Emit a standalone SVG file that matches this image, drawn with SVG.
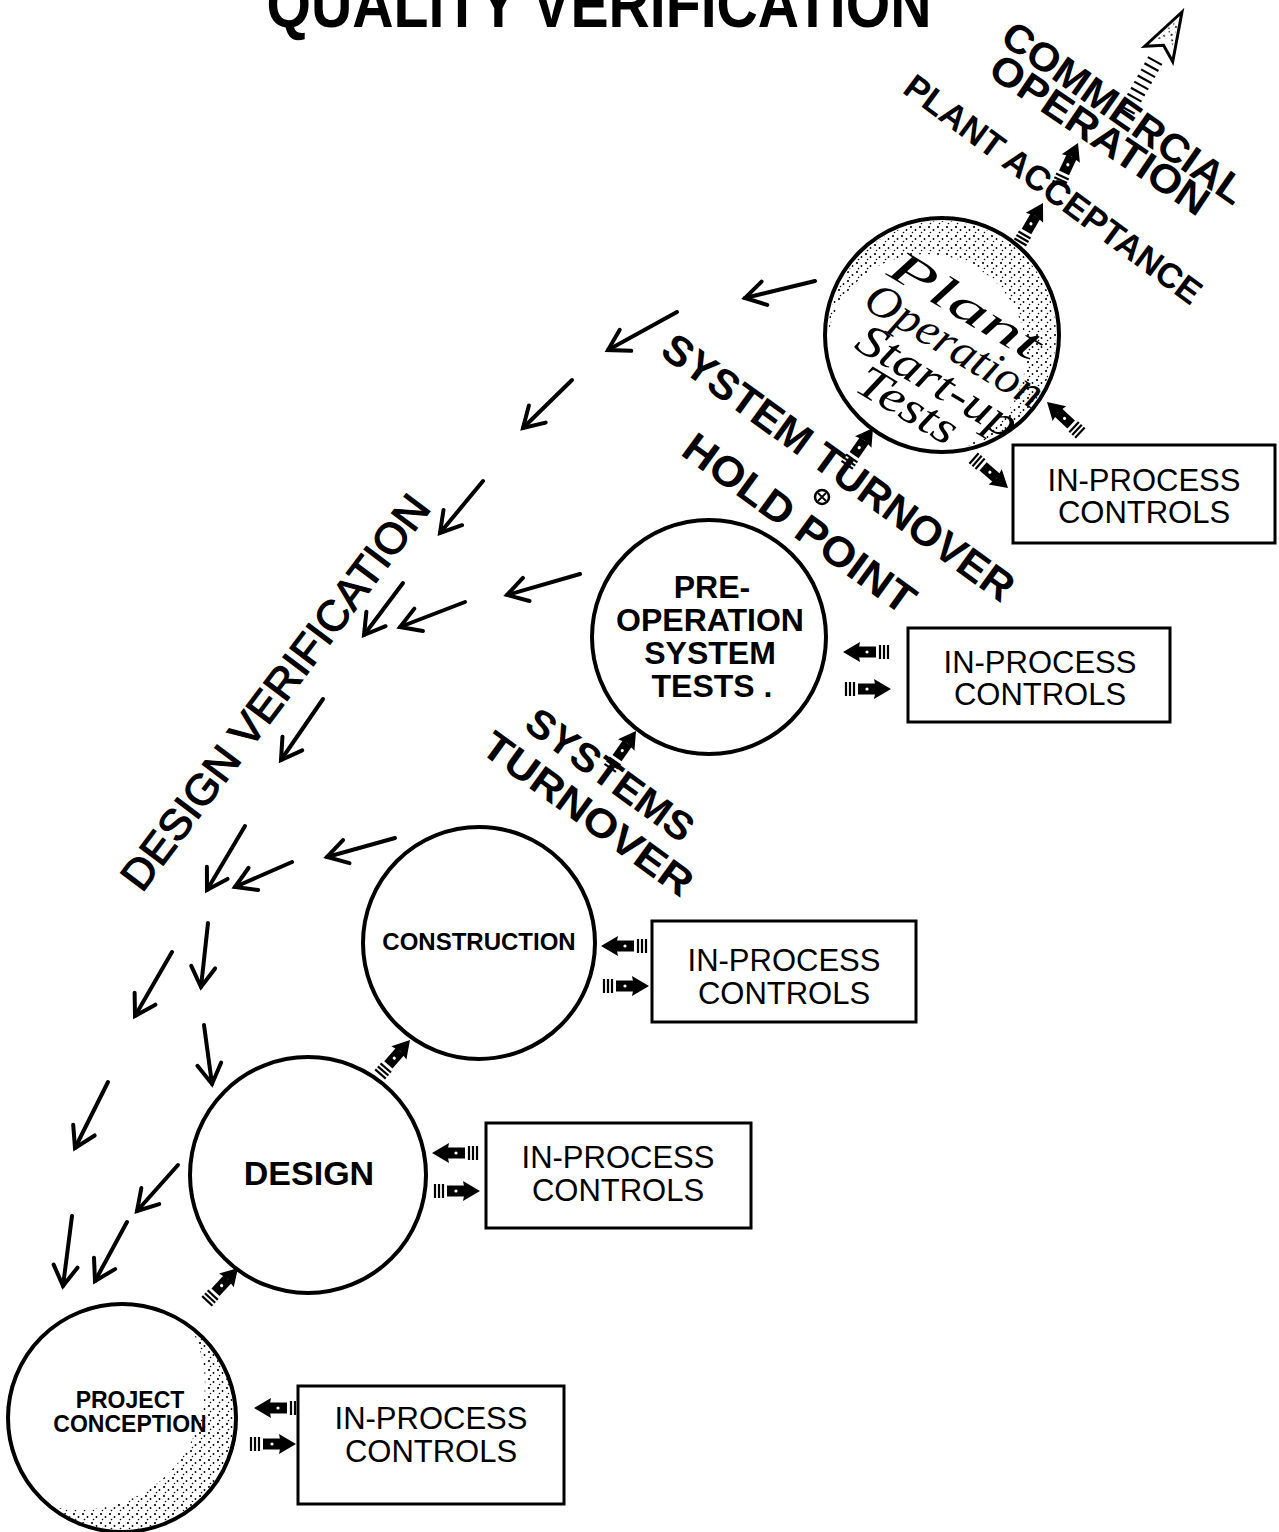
<svg xmlns="http://www.w3.org/2000/svg" xmlns:xlink="http://www.w3.org/1999/xlink" width="1279" height="1532" viewBox="0 0 1279 1532">
<defs>
<style>
.circ{fill:#fff;stroke:#000;stroke-width:4}
.box{fill:#fff;stroke:#000;stroke-width:3}
.ipc{font-family:"Liberation Sans",Arial,sans-serif;font-size:31px;text-anchor:middle;fill:#000}
.lbl{font-family:"Liberation Sans",Arial,sans-serif;font-weight:bold;text-anchor:middle;fill:#000}
.big{font-family:"Liberation Sans",Arial,sans-serif;font-weight:bold;text-anchor:middle;fill:#000}
.dvt{font-family:"Liberation Sans",Arial,sans-serif;font-weight:normal;text-anchor:middle;fill:#000;stroke:#000;stroke-width:1.2}
.hand{font-family:"Liberation Serif","DejaVu Serif",serif;font-style:italic;font-size:46px;text-anchor:middle;fill:#000}
.dv{stroke:#000;stroke-width:4;fill:none;stroke-linecap:round;marker-end:url(#vhead)}
.hl{stroke:#000;stroke-width:2.2}
</style>
<marker id="vhead" markerUnits="userSpaceOnUse" markerWidth="40" markerHeight="40" viewBox="-30 -20 40 40" refX="0" refY="0" orient="auto" overflow="visible">
<path d="M -20 -12 L 0 0 L -20 12" fill="none" stroke="#000" stroke-width="4" stroke-linecap="round" stroke-linejoin="miter"/>
</marker>
<g id="ha">
<line class="hl" x1="-45" y1="-7" x2="-45" y2="7"/>
<line class="hl" x1="-41" y1="-7" x2="-41" y2="7"/>
<line class="hl" x1="-37" y1="-7" x2="-37" y2="7"/>
<rect x="-33" y="-5.5" width="18" height="11" fill="#000"/>
<circle cx="-24" cy="0" r="1.6" fill="#fff"/>
<polygon points="0,0 -17,-10 -15,0 -17,10" fill="#000"/>
</g>
<g id="bigarrow">
<line class="hl" x1="-112" y1="-8" x2="-112" y2="8"/>
<line class="hl" x1="-105" y1="-8" x2="-105" y2="8"/>
<line class="hl" x1="-98" y1="-8" x2="-98" y2="8"/>
<line class="hl" x1="-91" y1="-8" x2="-91" y2="8"/>
<line class="hl" x1="-84" y1="-8" x2="-84" y2="8"/>
<line class="hl" x1="-77" y1="-8" x2="-77" y2="8"/>
<line class="hl" x1="-70" y1="-8" x2="-70" y2="8"/>
<line class="hl" x1="-63" y1="-8" x2="-63" y2="8"/>
<line class="hl" x1="-56" y1="-8" x2="-56" y2="8"/>
<polygon points="0,0 -48,-16 -38,0 -48,16" fill="#fff" stroke="#000" stroke-width="3" stroke-linejoin="miter"/>
<polygon points="-6,0 -36,-9 -30,0 -36,9" fill="url(#stip)"/>
</g>
<pattern id="stip" width="9" height="9" patternUnits="userSpaceOnUse">
<circle cx="2" cy="2" r="1.1" fill="#000"/>
<circle cx="6.5" cy="5" r="0.9" fill="#000"/>
<circle cx="3.5" cy="7.5" r="0.8" fill="#000"/>
</pattern>
<mask id="m5">
<circle cx="942" cy="335" r="114" fill="#fff"/>
<circle cx="926" cy="354" r="100" fill="#000"/>
</mask>
<mask id="m1">
<circle cx="122" cy="1418" r="112" fill="#fff"/>
<circle cx="80" cy="1385" r="125" fill="#000"/>
</mask>
</defs>
<rect width="1279" height="1532" fill="#fff"/>

<text class="big" x="599" y="27" font-size="66" textLength="665" lengthAdjust="spacingAndGlyphs">QUALITY VERIFICATION</text>

<g id="connectors">
<line class="dv" x1="815" y1="281" x2="745" y2="298"/>
<line class="dv" x1="677" y1="312" x2="608" y2="350"/>
<line class="dv" x1="572" y1="380" x2="523" y2="428"/>
<line class="dv" x1="483" y1="481" x2="440" y2="533"/>
<line class="dv" x1="580" y1="574" x2="507" y2="595"/>
<line class="dv" x1="403" y1="583" x2="364" y2="635"/>
<line class="dv" x1="465" y1="602" x2="400" y2="627"/>
<line class="dv" x1="323" y1="699" x2="281" y2="760"/>
<line class="dv" x1="395" y1="838" x2="327" y2="857"/>
<line class="dv" x1="245" y1="826" x2="207" y2="890"/>
<line class="dv" x1="292" y1="862" x2="235" y2="887"/>
<line class="dv" x1="208" y1="923" x2="201" y2="987"/>
<line class="dv" x1="172" y1="952" x2="135" y2="1016"/>
<line class="dv" x1="204" y1="1025" x2="212" y2="1084"/>
<line class="dv" x1="108" y1="1082" x2="75" y2="1148"/>
<line class="dv" x1="178" y1="1165" x2="137" y2="1211"/>
<line class="dv" x1="72" y1="1216" x2="63" y2="1286"/>
<line class="dv" x1="127" y1="1222" x2="95" y2="1281"/>

<use href="#ha" transform="translate(238,1268) rotate(-47)"/>
<use href="#ha" transform="translate(410,1040) rotate(-49)"/>
<use href="#ha" transform="translate(636,731) rotate(-55)"/>
<use href="#ha" transform="translate(873,428) rotate(-55)"/>
<use href="#ha" transform="translate(1043,203) rotate(-60)"/>
<use href="#ha" transform="translate(1078,143) rotate(-65)"/>
<use href="#bigarrow" transform="translate(1182,12) rotate(-61)"/>

<use href="#ha" transform="translate(254,1408) rotate(180)"/>
<use href="#ha" transform="translate(296,1444)"/>
<use href="#ha" transform="translate(432,1153) rotate(180)"/>
<use href="#ha" transform="translate(480,1191)"/>
<use href="#ha" transform="translate(601,946) rotate(180)"/>
<use href="#ha" transform="translate(649,986)"/>
<use href="#ha" transform="translate(843,652) rotate(180)"/>
<use href="#ha" transform="translate(891,689)"/>
<use href="#ha" transform="translate(1047,402) rotate(-137)"/>
<use href="#ha" transform="translate(1008,488) rotate(41)"/>

<g id="holdpoint">
<circle cx="822" cy="497" r="7" fill="#fff" stroke="#000" stroke-width="2.5"/>
<path d="M818 493 L826 501 M826 493 L818 501" stroke="#000" stroke-width="1.8"/>
</g>
</g>

<g id="labels">
<text class="dvt" font-size="43" transform="translate(287,701) rotate(-53)" textLength="482" lengthAdjust="spacingAndGlyphs">DESIGN VERIFICATION</text>
<text class="big" font-size="40" transform="translate(602,786) rotate(36)" textLength="197" lengthAdjust="spacingAndGlyphs">SYSTEMS</text>
<text class="big" font-size="40" transform="translate(580,825) rotate(36)" textLength="250" lengthAdjust="spacingAndGlyphs">TURNOVER</text>
<text class="big" font-size="42" transform="translate(830,479) rotate(36)" textLength="424" lengthAdjust="spacingAndGlyphs">SYSTEM TURNOVER</text>
<text class="big" font-size="42" transform="translate(791,535) rotate(36)" textLength="276" lengthAdjust="spacingAndGlyphs">HOLD POINT</text>
<text class="big" font-size="35" transform="translate(1046,199) rotate(36.5)" textLength="360" lengthAdjust="spacingAndGlyphs">PLANT ACCEPTANCE</text>
<text class="big" font-size="40" transform="translate(1116,124) rotate(35)" textLength="287" lengthAdjust="spacingAndGlyphs">COMMERCIAL</text>
<text class="big" font-size="40" transform="translate(1092,146) rotate(34)" textLength="255" lengthAdjust="spacingAndGlyphs">OPERATION</text>
</g>

<g id="project-conception">
<circle class="circ" cx="122" cy="1418" r="114" stroke-width="6"/>
<rect x="0" y="1290" width="250" height="242" fill="url(#stip)" mask="url(#m1)"/>
<text class="lbl" font-size="23" x="130" y="1408">PROJECT</text>
<text class="lbl" font-size="23" x="130" y="1432">CONCEPTION</text>
</g>
<g id="ipc-1">
<rect class="box" x="298" y="1386" width="266" height="118"/>
<text class="ipc" x="431" y="1429">IN-PROCESS</text>
<text class="ipc" x="431" y="1462">CONTROLS</text>
</g>

<g id="design">
<circle class="circ" cx="308" cy="1175" r="118" stroke-width="5"/>
<text class="lbl" font-size="34" x="309" y="1185">DESIGN</text>
</g>
<g id="ipc-2">
<rect class="box" x="486" y="1123" width="265" height="105"/>
<text class="ipc" x="618" y="1168">IN-PROCESS</text>
<text class="ipc" x="618" y="1201">CONTROLS</text>
</g>

<g id="construction">
<circle class="circ" cx="479" cy="943" r="116"/>
<text class="lbl" font-size="24" x="479" y="950">CONSTRUCTION</text>
</g>
<g id="ipc-3">
<rect class="box" x="652" y="921" width="264" height="101"/>
<text class="ipc" x="784" y="971">IN-PROCESS</text>
<text class="ipc" x="784" y="1004">CONTROLS</text>
</g>

<g id="pre-operation">
<circle class="circ" cx="709" cy="637" r="117"/>
<text class="lbl" font-size="32" x="712" y="598">PRE-</text>
<text class="lbl" font-size="32" x="710" y="631">OPERATION</text>
<text class="lbl" font-size="32" x="710" y="664">SYSTEM</text>
<text class="lbl" font-size="32" x="712" y="697">TESTS .</text>
</g>
<g id="ipc-4">
<rect class="box" x="908" y="628" width="262" height="94"/>
<text class="ipc" x="1040" y="673">IN-PROCESS</text>
<text class="ipc" x="1040" y="705">CONTROLS</text>
</g>

<g id="plant-operation">
<circle class="circ" cx="942" cy="335" r="117"/>
<rect x="820" y="210" width="250" height="250" fill="url(#stip)" mask="url(#m5)"/>
<text class="hand" transform="translate(958,318) rotate(31)" textLength="170" lengthAdjust="spacingAndGlyphs">Plant</text>
<text class="hand" transform="translate(947,358) rotate(31)" textLength="200" lengthAdjust="spacingAndGlyphs">Operation</text>
<text class="hand" transform="translate(930,394) rotate(31)" textLength="180" lengthAdjust="spacingAndGlyphs">Start-up</text>
<text class="hand" transform="translate(900,418) rotate(31)" textLength="110" lengthAdjust="spacingAndGlyphs">Tests</text>
</g>
<g id="ipc-5">
<rect class="box" x="1013" y="445" width="262" height="98"/>
<text class="ipc" x="1144" y="491">IN-PROCESS</text>
<text class="ipc" x="1144" y="523">CONTROLS</text>
</g>
</svg>
